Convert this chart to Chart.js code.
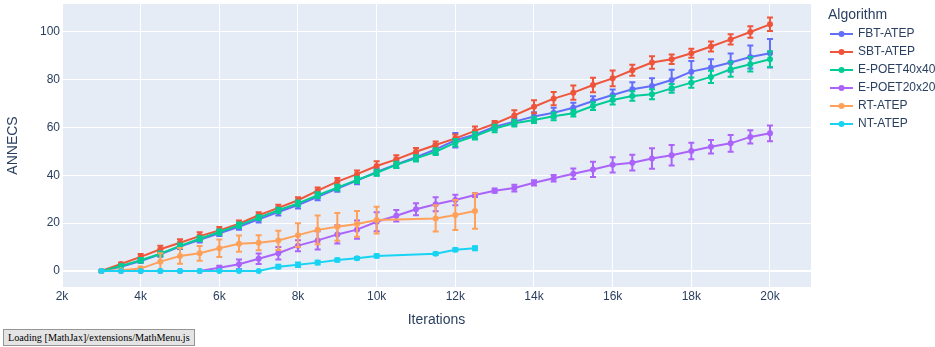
<!DOCTYPE html>
<html>
<head>
<meta charset="utf-8">
<script src="https://cdn.jsdelivr.net/npm/chart.js@4.4.0/dist/chart.umd.min.js"></script>
<style>
  html, body { margin: 0; padding: 0; background: #fff; }
  #wrap { position: relative; width: 935px; height: 347px; }
  #mjx {
    position: fixed; left: 3px; bottom: 1px;
    background: #e4e4e4; border: 1px solid #959595;
    padding: 2px 4px; color: #000; white-space: nowrap;
    font: 10.2px "Liberation Serif", "Times New Roman", serif;
  }
</style>
</head>
<body>
<div id="wrap"><canvas id="annecsChart" width="935" height="347"></canvas></div>
<div id="mjx">Loading [MathJax]/extensions/MathMenu.js</div>
<script>
// x values (iterations) shared by the four long runs
const iterations = [3000, 3500, 4000, 4500, 5000, 5500, 6000, 6500, 7000, 7500,
  8000, 8500, 9000, 9500, 10000, 10500, 11000, 11500, 12000, 12500,
  13000, 13500, 14000, 14500, 15000, 15500, 16000, 16500, 17000, 17500,
  18000, 18500, 19000, 19500, 20000];
// RT-ATEP and NT-ATEP stop at 12.5k and miss 10.5k / 11k
const shortIterations = [3000, 3500, 4000, 4500, 5000, 5500, 6000, 6500, 7000, 7500,
  8000, 8500, 9000, 9500, 10000, 11500, 12000, 12500];

const algorithms = ['FBT-ATEP', 'SBT-ATEP', 'E-POET40x40', 'E-POET20x20', 'RT-ATEP', 'NT-ATEP'];
const colors = ['#636efa', '#ef553b', '#00cc96', '#ab63fa', '#ffa15a', '#19d3f3'];

const fbtMean = [0, 1.8, 4.2, 7.0, 10.2, 13.0, 15.8, 18.5, 21.6, 24.7,
  27.6, 31.0, 34.5, 37.8, 41.4, 44.6, 47.6, 50.9, 54.7, 57.0,
  60.4, 62.5, 64.6, 66.2, 68.3, 71.1, 73.6, 76.0, 77.4, 79.9,
  83.4, 85.1, 87.2, 89.5, 91.1];
const fbtErr = [0, 0.6, 0.8, 1.0, 1.0, 1.1, 1.2, 1.2, 1.3, 1.5,
  1.5, 1.4, 1.4, 1.5, 1.5, 1.5, 1.6, 2.0, 3.0, 1.8,
  1.5, 1.4, 1.8, 2.1, 2.1, 2.0, 2.3, 3.0, 3.2, 4.3,
  4.5, 3.5, 3.8, 4.8, 6.0];

const sbtMean = [0, 2.9, 5.9, 9.1, 11.8, 14.6, 17.0, 19.8, 23.3, 26.4,
  29.6, 33.6, 37.4, 40.5, 43.9, 46.7, 49.9, 52.7, 55.5, 58.6,
  61.6, 65.1, 68.7, 72.1, 74.6, 77.8, 80.6, 84.0, 87.2, 88.6,
  91.1, 93.9, 96.9, 100.0, 103.2];
const sbtErr = [0, 0.5, 1.2, 1.5, 1.5, 1.6, 1.4, 1.3, 1.3, 1.3,
  1.2, 1.3, 1.5, 1.5, 2.0, 1.7, 1.6, 1.5, 1.6, 1.8,
  1.2, 2.2, 2.7, 2.8, 3.0, 3.0, 3.3, 2.3, 2.6, 2.0,
  1.9, 2.1, 2.1, 2.4, 2.8];

const poet40Mean = [0, 2.1, 4.5, 7.2, 10.5, 13.5, 16.3, 19.2, 22.3, 25.4,
  28.3, 31.7, 34.9, 38.1, 41.1, 44.4, 47.1, 49.9, 53.7, 56.5,
  59.6, 61.8, 63.2, 64.7, 66.0, 69.0, 71.5, 73.2, 73.9, 76.4,
  78.8, 81.2, 84.4, 86.5, 88.6];
const poet40Err = [0, 0.6, 0.9, 1.0, 1.0, 1.0, 1.1, 1.1, 1.0, 1.1,
  1.2, 1.2, 1.2, 1.3, 1.3, 1.3, 1.3, 1.4, 1.5, 1.5,
  1.6, 1.4, 1.3, 1.6, 1.4, 1.6, 1.8, 2.0, 2.1, 1.8,
  2.1, 2.6, 3.1, 3.0, 3.3];

const poet20Mean = [0, 0, 0, 0, 0, 0, 1.4, 2.8, 5.1, 7.4,
  10.6, 12.8, 15.3, 17.3, 20.6, 23.1, 25.8, 27.9, 29.7, 31.8,
  33.6, 34.7, 36.9, 38.8, 40.7, 42.5, 44.4, 45.3, 47.1, 48.4,
  50.2, 52.0, 53.4, 56.1, 57.6];
const poet20Err = [0, 0, 0, 0, 0, 0, 0.8, 2.0, 2.2, 2.6,
  2.3, 3.8, 3.8, 3.8, 4.0, 2.4, 2.5, 2.9, 2.2, 0.8,
  0.9, 1.4, 1.1, 1.4, 2.2, 3.2, 3.2, 3.3, 4.3, 4.3,
  3.5, 2.8, 3.5, 2.8, 3.3];

const rtMean = [0, 0.3, 1.0, 3.9, 6.3, 7.4, 9.5, 11.4, 11.8, 12.8,
  15.0, 17.2, 18.5, 19.7, 21.3, 22.0, 23.4, 25.1];
const rtErr = [0, 0.5, 0.8, 3.5, 3.3, 3.1, 3.7, 3.4, 3.1, 4.0,
  5.0, 6.0, 5.8, 5.4, 5.6, 5.5, 6.3, 7.4];

const ntMean = [0, 0, 0, 0, 0, 0, 0, 0, 0, 1.8,
  2.6, 3.5, 4.6, 5.3, 6.3, 7.2, 8.9, 9.5];
const ntErr = [0, 0, 0, 0, 0, 0, 0, 0, 0, 0.8,
  0.9, 0.8, 0.6, 0.5, 0.7, 0.5, 0.6, 0.8];

const xTicks = [2000, 4000, 6000, 8000, 10000, 12000, 14000, 16000, 18000, 20000];
const yTicks = [0, 20, 40, 60, 80, 100];

const textColor = '#2a3f5f';
const fontFamily = '"Liberation Sans", Arial, sans-serif';

const series = [
  [iterations, fbtMean, fbtErr],
  [iterations, sbtMean, sbtErr],
  [iterations, poet40Mean, poet40Err],
  [iterations, poet20Mean, poet20Err],
  [shortIterations, rtMean, rtErr],
  [shortIterations, ntMean, ntErr]
];

const datasets = series.map(([xs, ys, errs], i) => ({
  label: algorithms[i],
  data: xs.map((x, j) => ({ x: x, y: ys[j] })),
  errors: errs,
  borderColor: colors[i],
  backgroundColor: colors[i],
  borderWidth: 2,
  pointRadius: 3,
  pointBorderWidth: 0,
  pointBackgroundColor: colors[i],
  tension: 0,
  order: -i   // later traces on top, like plotly
}));

// plot background
const plotBg = {
  id: 'plotBg',
  beforeDraw(chart) {
    const { ctx, chartArea: a } = chart;
    ctx.save();
    ctx.fillStyle = '#e5ecf6';
    ctx.fillRect(a.left, a.top, a.right - a.left, a.bottom - a.top);
    ctx.restore();
  }
};

// symmetric error bars with caps
const errorBars = {
  id: 'errorBars',
  afterDatasetDraw(chart, args) {
    const ds = chart.data.datasets[args.index];
    if (!ds.errors) return;
    const { ctx, scales: { x, y } } = chart;
    ctx.save();
    ctx.strokeStyle = ds.borderColor;
    ctx.lineWidth = 2;
    ds.data.forEach((p, i) => {
      const e = ds.errors[i];
      if (!e) return;
      const px = x.getPixelForValue(p.x);
      const top = y.getPixelForValue(p.y + e);
      const bot = y.getPixelForValue(p.y - e);
      ctx.beginPath();
      ctx.moveTo(px, top); ctx.lineTo(px, bot);
      ctx.moveTo(px - 3, top); ctx.lineTo(px + 3, top);
      ctx.moveTo(px - 3, bot); ctx.lineTo(px + 3, bot);
      ctx.stroke();
    });
    ctx.restore();
  }
};

// plotly-like legend on the right
const sideLegend = {
  id: 'sideLegend',
  afterDraw(chart) {
    const { ctx } = chart;
    const x0 = 830;
    ctx.save();
    ctx.fillStyle = textColor;
    ctx.textBaseline = 'middle';
    ctx.textAlign = 'left';
    ctx.font = '14px ' + fontFamily;
    ctx.fillText('Algorithm', 828, 15);
    ctx.font = '12px ' + fontFamily;
    chart.data.datasets.forEach((ds, i) => {
      const yy = 34 + i * 18;
      ctx.strokeStyle = ds.borderColor;
      ctx.lineWidth = 2;
      ctx.beginPath();
      ctx.moveTo(x0, yy); ctx.lineTo(x0 + 23, yy);
      ctx.stroke();
      ctx.fillStyle = ds.borderColor;
      ctx.beginPath();
      ctx.arc(x0 + 11.5, yy, 3, 0, Math.PI * 2);
      ctx.fill();
      ctx.fillStyle = textColor;
      ctx.fillText(ds.label, x0 + 28, yy);
    });
    ctx.restore();
  }
};

const ctx = document.getElementById('annecsChart').getContext('2d');
new Chart(ctx, {
  type: 'line',
  data: { datasets: datasets },
  plugins: [plotBg, errorBars, sideLegend],
  options: {
    responsive: false,
    animation: false,
    layout: { padding: { top: 3, right: 124, left: 0, bottom: 0 } },
    plugins: {
      legend: { display: false },
      tooltip: { enabled: false }
    },
    scales: {
      x: {
        type: 'linear',
        min: 2000,
        max: 21043,
        afterBuildTicks: s => { s.ticks = xTicks.map(v => ({ value: v })); },
        afterFit: s => { s.height = 60; s.paddingLeft = 0; s.paddingRight = 0; },
        grid: { color: '#ffffff', lineWidth: 1, drawTicks: false },
        border: { display: false },
        ticks: {
          padding: 2.5,
          color: textColor,
          font: { family: fontFamily, size: 12 },
          maxRotation: 0,
          callback: v => (v / 1000) + 'k'
        },
        title: {
          display: true,
          text: 'Iterations',
          color: textColor,
          font: { family: fontFamily, size: 14 },
          padding: { top: 0, bottom: 18.6 }
        }
      },
      y: {
        min: -6.7,
        max: 111.7,
        afterBuildTicks: s => { s.ticks = yTicks.map(v => ({ value: v })); },
        afterFit: s => { s.width = 62; s.paddingTop = 0; s.paddingBottom = 0; },
        grid: {
          color: '#ffffff',
          lineWidth: c => (c.tick && c.tick.value === 0 ? 2 : 1),
          drawTicks: false
        },
        border: { display: false },
        ticks: {
          padding: 2,
          color: textColor,
          font: { family: fontFamily, size: 12 }
        },
        title: {
          display: true,
          text: 'ANNECS',
          color: textColor,
          font: { family: fontFamily, size: 14 },
          padding: { top: 4.9, bottom: 0 }
        }
      }
    }
  }
});
</script>
</body>
</html>
